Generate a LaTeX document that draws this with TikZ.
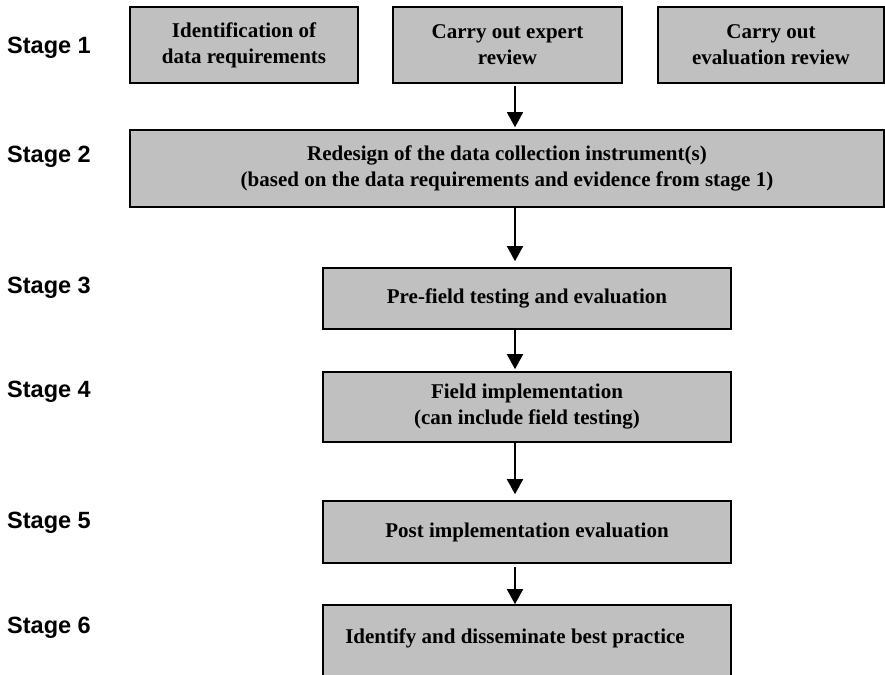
\documentclass[tikz,border=0pt]{standalone}
\usepackage{fontspec}
\setmainfont{Liberation Serif}
\setsansfont{Liberation Sans}
\usetikzlibrary{arrows.meta,positioning}
\definecolor{boxgray}{RGB}{192,192,192}

\begin{document}
\begin{tikzpicture}[x=1pt, y=-1pt,
        box/.style={draw, fill=boxgray, line width=1.6pt, inner sep=0pt, align=center,
                font=\fontsize{21}{26}\selectfont\bfseries},
        stage/.style={anchor=base west, inner sep=0pt,
                font=\fontsize{23.5}{28}\selectfont\sffamily\bfseries},
        flow/.style={line width=1.6pt, -{Triangle[width=16pt,length=15pt]}}
    ]
    \useasboundingbox (0,0) rectangle (885,674);

    % Stage labels down the left side
    \foreach \y [count=\n from 1] in {54,162,293,397,528,633} {
            \node[stage] (st\n) at (7,\y) {Stage \n};
        }

    % Stage 1: three boxes side by side
    \node[box, minimum width=228pt, minimum height=76pt] (ident) at (244,45) {Identification of\\data requirements};
    \node[box, minimum width=229pt, minimum height=76pt] (expert) at (507.5,45) {Carry out expert\\review};
    \node[box, minimum width=226pt, minimum height=76pt] (evalrev) at (771,45) {Carry out\\evaluation review};

    % Stage 2: wide redesign box
    \node[box, minimum width=754pt, minimum height=77pt] (redesign) at (507,168.5)
    {Redesign of the data collection instrument(s)\\(based on the data requirements and evidence from stage 1)};

    % Stages 3 to 6, one below the other
    \node[box, minimum width=408pt, minimum height=61pt] (pretest) at (527,298.5) {Pre-field testing and evaluation};
    \node[box, minimum width=408pt, minimum height=70pt] (field) at (527,407) {Field implementation\\(can include field testing)};
    \node[box, minimum width=408pt, minimum height=62pt] (post) at (527,532) {Post implementation evaluation};
    \node[box, minimum width=408pt, minimum height=115pt] (best) at (527,662.5) {};
    \node[box, draw=none, fill=none, anchor=base] (besttxt) at (515,643) {Identify and disseminate best practice};

    % Arrows all run down the same vertical line
    \coordinate (axis) at (515,0);
    \draw[flow, shorten <=2pt, shorten >=2pt] (expert.south -| axis) -- (redesign.north -| axis);
    \draw[flow, shorten >=6pt] (redesign.south -| axis) -- (pretest.north -| axis);
    \draw[flow, shorten >=2pt] (pretest.south -| axis) -- (field.north -| axis);
    \draw[flow, shorten >=6pt] (field.south -| axis) -- (post.north -| axis);
    \draw[flow, shorten <=3pt] (post.south -| axis) -- (best.north -| axis);
\end{tikzpicture}
\end{document}
